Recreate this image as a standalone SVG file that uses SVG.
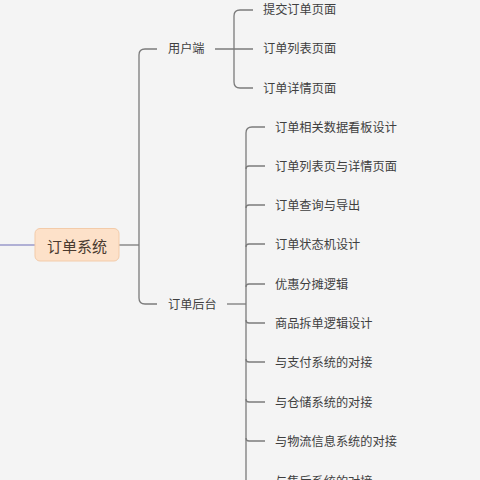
<svg xmlns="http://www.w3.org/2000/svg" width="480" height="480" viewBox="0 0 480 480">
<style>
.c{fill:none;stroke:#7b7b7b;stroke-width:1.3}
.t{font-family:"Noto Sans CJK SC","Noto Sans CJK JP",sans-serif;font-size:12.2px;fill:#3f3f3f;dominant-baseline:central}
.r{font-family:"Noto Sans CJK SC","Noto Sans CJK JP",sans-serif;font-size:15px;fill:#4a3b30;dominant-baseline:central;text-anchor:middle}
</style>
<rect width="480" height="480" fill="#f4f4f4"/>
<g id="connectors">
<path d="M0,245 H35" fill="none" stroke="#9a9acb" stroke-width="1.4"/>
<path class="c" d="M119,245 H139"/>
<path class="c" d="M157,49 H145 Q139,49 139,55 V298 Q139,304 145,304 H157"/>
<path class="c" d="M215,49 H253"/>
<path class="c" d="M253,10 H240 Q234,10 234,16 V82 Q234,88 240,88 H253"/>
<path class="c" d="M227,304 H246"/>
<path class="c" d="M265,127 H252 Q246,127 246,133 V480"/>
<path class="c" d="M246,169 Q246,166 249,166 H265"/>
<path class="c" d="M246,208 Q246,205 249,205 H265"/>
<path class="c" d="M246,247 Q246,244 249,244 H265"/>
<path class="c" d="M246,287 Q246,284 249,284 H265"/>
<path class="c" d="M246,320 Q246,323 249,323 H265"/>
<path class="c" d="M246,359 Q246,362 249,362 H265"/>
<path class="c" d="M246,399 Q246,402 249,402 H265"/>
<path class="c" d="M246,438 Q246,441 249,441 H265"/>
</g>
<g id="root">
<rect x="35" y="228.5" width="84" height="32.5" rx="5" fill="#fde1c9" stroke="#f3cba9" stroke-width="1"/>
<text class="r" x="77" y="245">订单系统</text>
</g>
<g id="n-user"><text class="t" x="168" y="48">用户端</text></g>
<g id="n-u1"><text class="t" x="263" y="9">提交订单页面</text></g>
<g id="n-u2"><text class="t" x="263" y="48">订单列表页面</text></g>
<g id="n-u3"><text class="t" x="263" y="88">订单详情页面</text></g>
<g id="n-admin"><text class="t" x="168" y="304">订单后台</text></g>
<g id="n-a1"><text class="t" x="275" y="127">订单相关数据看板设计</text></g>
<g id="n-a2"><text class="t" x="275" y="166">订单列表页与详情页面</text></g>
<g id="n-a3"><text class="t" x="275" y="205">订单查询与导出</text></g>
<g id="n-a4"><text class="t" x="275" y="244">订单状态机设计</text></g>
<g id="n-a5"><text class="t" x="275" y="284">优惠分摊逻辑</text></g>
<g id="n-a6"><text class="t" x="275" y="323">商品拆单逻辑设计</text></g>
<g id="n-a7"><text class="t" x="275" y="362">与支付系统的对接</text></g>
<g id="n-a8"><text class="t" x="275" y="402">与仓储系统的对接</text></g>
<g id="n-a9"><text class="t" x="275" y="441">与物流信息系统的对接</text></g>
<g id="n-a10"><text class="t" x="275" y="481">与售后系统的对接</text></g>
</svg>
